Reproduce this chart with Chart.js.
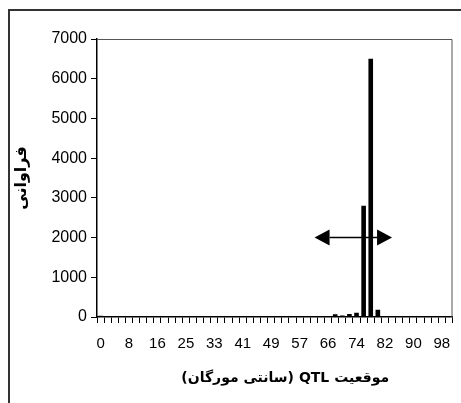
<!DOCTYPE html>
<html>
<head>
<meta charset="utf-8">
<script src="https://cdn.jsdelivr.net/npm/chart.js@4.4.1/dist/chart.umd.min.js"></script>
<style>
  body { margin: 0; background: #fff; }
  #wrap { position: relative; width: 461px; height: 403px; overflow: hidden; }
  #frame { position: absolute; left: 8px; top: 9px; width: 470px; height: 410px;
           border-left: 2px solid #333; border-top: 2px solid #333; }
  #chart { position: absolute; left: 0; top: 0; }
</style>
</head>
<body>
<div id="wrap">
  <div id="frame"></div>
  <canvas id="chart" width="461" height="403" dir="rtl"></canvas>
</div>
<script>
// QTL positions (cM), one per bar
const positions = ['0', '2', '4', '6', '8', '10', '12', '14', '16', '18',
  '21', '23', '25', '27', '29', '31', '33', '35', '37', '39',
  '41', '43', '45', '47', '49', '51', '53', '55', '57', '59',
  '62', '64', '66', '68', '70', '72', '74', '76', '78', '80',
  '82', '84', '86', '88', '90', '92', '94', '96', '98', '100'];

// frequency of each position
const frequency = [30, 0, 20, 0, 0, 0, 0, 0, 0, 0,
  0, 20, 0, 0, 0, 0, 0, 0, 0, 0,
  0, 0, 0, 25, 0, 0, 0, 0, 0, 0,
  0, 0, 0, 70, 40, 75, 110, 2800, 6500, 185,
  0, 0, 0, 0, 0, 0, 0, 0, 0, 0];

const yTicks = [0, 1000, 2000, 3000, 4000, 5000, 6000, 7000];

// confidence interval arrow (in category index units) and its height
const arrowRange = [30.1, 41.0];
const arrowLevel = 2000;

const frameBox = {
  id: 'frameBox',
  beforeDatasetsDraw(chart) {
    const { ctx, chartArea: a } = chart;
    ctx.save();
    ctx.strokeStyle = '#555';
    ctx.lineWidth = 1;
    ctx.beginPath();
    ctx.moveTo(a.left, a.top + 0.5);
    ctx.lineTo(a.right - 0.5, a.top + 0.5);
    ctx.lineTo(a.right - 0.5, a.bottom);
    ctx.stroke();
    ctx.restore();
  }
};

const arrowPlugin = {
  id: 'arrowPlugin',
  afterDatasetsDraw(chart) {
    const { ctx } = chart;
    const x = chart.scales.x, y = chart.scales.y;
    const x1 = x.getPixelForValue(arrowRange[0]);
    const x2 = x.getPixelForValue(arrowRange[1]);
    const yy = y.getPixelForValue(arrowLevel);
    const head = 15, half = 8;
    ctx.save();
    ctx.strokeStyle = '#000';
    ctx.fillStyle = '#000';
    ctx.lineWidth = 1.5;
    ctx.beginPath();
    ctx.moveTo(x1 + head, yy);
    ctx.lineTo(x2 - head, yy);
    ctx.stroke();
    ctx.beginPath();
    ctx.moveTo(x1, yy);
    ctx.lineTo(x1 + head, yy - half);
    ctx.lineTo(x1 + head, yy + half);
    ctx.closePath();
    ctx.fill();
    ctx.beginPath();
    ctx.moveTo(x2, yy);
    ctx.lineTo(x2 - head, yy - half);
    ctx.lineTo(x2 - head, yy + half);
    ctx.closePath();
    ctx.fill();
    ctx.restore();
  }
};

var ctx = document.getElementById('chart').getContext('2d');
var qtlChart = new Chart(ctx, {
  type: 'bar',
  data: {
    labels: positions,
    datasets: [
      {
        label: 'فراوانی',
        data: frequency,
        backgroundColor: '#000',
        borderWidth: 0,
        barPercentage: 0.65,
        categoryPercentage: 1,
      },
    ],
  },
  options: {
    responsive: false,
    animation: false,
    layout: { padding: { top: 39, right: 5, left: 0, bottom: 0 } },
    plugins: {
      legend: { display: false },
      tooltip: { enabled: false },
    },
    scales: {
      x: {
        grid: {
          offset: true,
          drawOnChartArea: false,
          color: '#000',
          tickLength: 6,
        },
        border: { color: '#000', width: 1.5 },
        ticks: {
          autoSkip: false,
          maxRotation: 0,
          color: '#000',
          padding: 12,
          font: { family: "'Liberation Sans', Arial, sans-serif", size: 15 },
          callback: function (val, idx) {
            return idx % 4 === 0 ? this.getLabelForValue(val) : '';
          },
        },
        title: {
          display: true,
          // trailing en spaces nudge the centred title to the right
          text: 'موقعیت QTL (سانتی مورگان)\u2002\u2002\u2002',
          color: '#000',
          font: { family: "'DejaVu Sans', serif", size: 14, weight: 'bold' },
          padding: { top: 0, bottom: 16 },
        },
        afterFit: function (scale) { scale.height = 86; },
      },
      y: {
        min: 0,
        max: 7000,
        afterBuildTicks: function (scale) {
          scale.ticks = yTicks.map((v) => ({ value: v }));
        },
        grid: {
          drawOnChartArea: false,
          color: '#000',
          tickLength: 6,
        },
        border: { color: '#000', width: 1.5 },
        ticks: {
          color: '#000',
          padding: 4,
          font: { family: "'Liberation Sans', Arial, sans-serif", size: 16 },
          callback: function (val) { return String(val); },
        },
        title: {
          display: true,
          text: 'فراوانی',
          color: '#000',
          font: { family: "'DejaVu Sans', serif", size: 16, weight: 'bold' },
          padding: { top: 12, bottom: 0 },
        },
        afterFit: function (scale) { scale.width = 97; },
      },
    },
  },
  plugins: [frameBox, arrowPlugin],
});
</script>
</body>
</html>
